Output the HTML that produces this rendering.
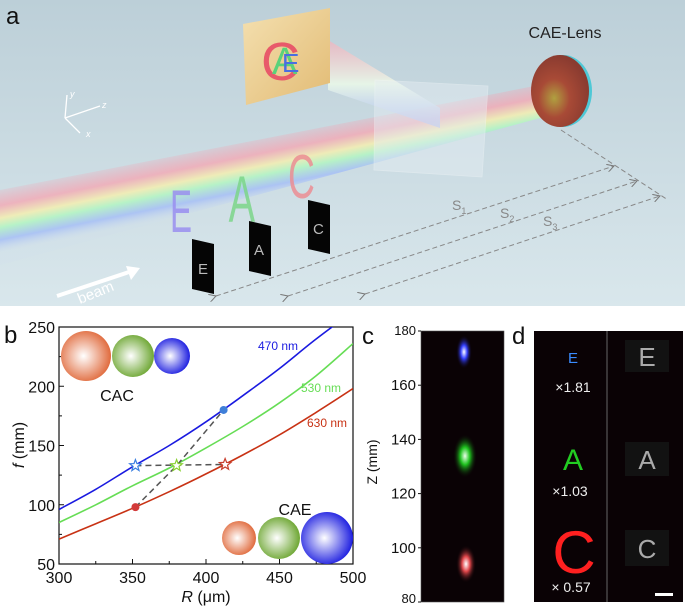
<!DOCTYPE html>
<html><head><meta charset="utf-8"><style>
body{margin:0;background:#fff;width:685px;height:606px;overflow:hidden;font-family:"Liberation Sans",Arial,sans-serif}
svg{position:absolute;left:0;top:0}
</style></head><body>
<svg id="root" width="685" height="606" viewBox="0 0 685 606">
<defs>
<linearGradient id="bg" x1="0" y1="0" x2="0" y2="1"><stop offset="0" stop-color="#bccfd8"/><stop offset="1" stop-color="#d9e7ec"/></linearGradient>
<linearGradient id="beamg" gradientUnits="userSpaceOnUse" x1="0" y1="190" x2="12" y2="250"><stop offset="0" stop-color="#f4a0b0" stop-opacity=".2"/><stop offset=".25" stop-color="#f4a8b4" stop-opacity=".8"/><stop offset=".45" stop-color="#f4eeb0" stop-opacity=".85"/><stop offset=".6" stop-color="#b4f4c4" stop-opacity=".9"/><stop offset=".8" stop-color="#a6bff6" stop-opacity=".85"/><stop offset="1" stop-color="#c8d8f0" stop-opacity=".1"/></linearGradient>
<linearGradient id="refg" x1="0" y1="0" x2="0" y2="1"><stop offset="0" stop-color="#f4b0bc" stop-opacity=".7"/><stop offset=".5" stop-color="#eaf8e8" stop-opacity=".9"/><stop offset="1" stop-color="#a8b8f4" stop-opacity=".7"/></linearGradient>
<linearGradient id="panelg" x1="0" y1="0" x2="1" y2="1"><stop offset="0" stop-color="#f4e0b0"/><stop offset="1" stop-color="#e2bb74"/></linearGradient>
<radialGradient id="ro" cx=".45" cy=".5" r=".55"><stop offset="0" stop-color="#fff"/><stop offset="1" stop-color="#e06a3c"/></radialGradient>
<radialGradient id="rg" cx=".45" cy=".5" r=".55"><stop offset="0" stop-color="#fff"/><stop offset="1" stop-color="#6da632"/></radialGradient>
<radialGradient id="rb" cx=".45" cy=".5" r=".55"><stop offset="0" stop-color="#fff"/><stop offset="1" stop-color="#1d1ee0"/></radialGradient>
<radialGradient id="sb" r=".5"><stop offset="0" stop-color="#fff"/><stop offset=".4" stop-color="#3440ff"/><stop offset="1" stop-color="#0a0205" stop-opacity="0"/></radialGradient>
<radialGradient id="sg" r=".5"><stop offset="0" stop-color="#eaffea"/><stop offset=".4" stop-color="#1ec21e"/><stop offset="1" stop-color="#0a0205" stop-opacity="0"/></radialGradient>
<radialGradient id="sr" r=".5"><stop offset="0" stop-color="#fff"/><stop offset=".4" stop-color="#e0464a"/><stop offset="1" stop-color="#0a0205" stop-opacity="0"/></radialGradient>
<radialGradient id="lensg" cx=".4" cy=".6" r=".6"><stop offset="0" stop-color="#b0a040"/><stop offset=".45" stop-color="#a84a36"/><stop offset="1" stop-color="#8a3b30"/></radialGradient>
<clipPath id="plotclip"><rect x="59" y="327" width="294" height="237"/></clipPath>
<marker id="ah" markerWidth="8" markerHeight="8" refX="7" refY="4" orient="auto"><path d="M0,0 L7,4 L0,8" fill="none" stroke="#777" stroke-width="1"/></marker>
</defs>

<g>
<rect x="0" y="0" width="685" height="306" fill="url(#bg)"/>
<text x="6" y="24" font-size="24" fill="#111">a</text>
<polygon points="0,190 555,82 555,114 0,265" fill="url(#beamg)"/>
<polygon points="328,40 328,90 440,128 440,108" fill="url(#refg)"/>
<polygon points="243,24 330,8 330,83 246,105" fill="url(#panelg)"/>
<text x="261" y="80" font-size="54" fill="#e85a6a">C</text>
<text x="272" y="74" font-size="38" fill="#5ad27a">A</text>
<text x="282" y="72" font-size="26" fill="#4a6ee0">E</text>
<polygon points="375,80 488,86 482,177 374,170" fill="#e6eef4" opacity=".45" stroke="#f4f8fa" stroke-width=".8"/>
<ellipse cx="563" cy="91" rx="29" ry="36" fill="#4ec8d6"/>
<ellipse cx="560" cy="91" rx="29" ry="36" fill="url(#lensg)"/>
<text x="565" y="38" font-size="16" text-anchor="middle" fill="#222">CAE-Lens</text>
<g stroke="#fff" stroke-width="1.3" fill="none">
<line x1="65" y1="118" x2="67" y2="95"/><line x1="65" y1="118" x2="100" y2="106"/><line x1="65" y1="118" x2="80" y2="133"/></g>
<text x="70" y="97" font-size="9" font-style="italic" fill="#fff">y</text>
<text x="102" y="108" font-size="9" font-style="italic" fill="#fff">z</text>
<text x="86" y="137" font-size="9" font-style="italic" fill="#fff">x</text>
<text x="170" y="232" font-size="60" fill="#9a8ff0" opacity=".85" transform="scale(0.55,1) translate(139,0)">E</text>
<text x="229" y="222" font-size="66" fill="#7cd68a" opacity=".85" transform="scale(0.6,1) translate(152,0)">A</text>
<text x="288" y="198" font-size="62" fill="#ec8e94" opacity=".85" transform="scale(0.6,1) translate(192,0)">C</text>
<polygon points="192,239 214,244 214,294 192,289" fill="#050505"/>
<polygon points="249,221 271,226 271,276 249,271" fill="#050505"/>
<polygon points="308,200 330,205 330,254 308,249" fill="#050505"/>
<text x="198" y="274" font-size="15" fill="#bbb">E</text>
<text x="254" y="255" font-size="15" fill="#bbb">A</text>
<text x="313" y="234" font-size="15" fill="#bbb">C</text>
<g stroke="#888" stroke-width="1" stroke-dasharray="5,3" fill="none">
<line x1="561" y1="130" x2="668" y2="200"/>
<line x1="216" y1="296" x2="614" y2="166" marker-start="url(#ah)" marker-end="url(#ah)"/>
<line x1="288" y1="296" x2="637" y2="181" marker-start="url(#ah)" marker-end="url(#ah)"/>
<line x1="365" y1="294" x2="660" y2="196" marker-start="url(#ah)" marker-end="url(#ah)"/>
</g>
<text x="452" y="210" font-size="14" fill="#888">S<tspan font-size="9" dy="4">1</tspan></text>
<text x="500" y="218" font-size="14" fill="#888">S<tspan font-size="9" dy="4">2</tspan></text>
<text x="543" y="226" font-size="14" fill="#888">S<tspan font-size="9" dy="4">3</tspan></text>
<line x1="57" y1="296" x2="132" y2="271" stroke="#fff" stroke-width="4"/>
<polygon points="140,268 126,266 131,280" fill="#fff"/>
<text x="80" y="304" font-size="15" fill="#fff" transform="rotate(-22 80 304)">beam</text>
</g>

<g id="pb">
<text x="4" y="343" font-size="24" fill="#111">b</text>
</g>

<g>
<text x="362" y="344" font-size="24" fill="#111">c</text>
<rect x="421" y="331" width="83" height="271" fill="#0a0205" stroke="#555" stroke-width=".6"/>
<ellipse cx="464" cy="352" rx="8" ry="17" fill="url(#sb)"/>
<ellipse cx="465" cy="456" rx="12" ry="22" fill="url(#sg)"/>
<ellipse cx="466" cy="564" rx="10" ry="19" fill="url(#sr)"/>
<g id="ctick"></g>
<text x="0" y="0" font-size="14" fill="#111" text-anchor="middle" transform="translate(377,462) rotate(-90)">Z (mm)</text>
</g>

<g>
<text x="512" y="344" font-size="24" fill="#111">d</text>
<rect x="534" y="331" width="149" height="271" fill="#0a0205"/>
<line x1="607" y1="331" x2="607" y2="602" stroke="#666" stroke-width="1"/>
<text x="573" y="363" font-size="15" fill="#3a8cff" text-anchor="middle">E</text>
<text x="573" y="392" font-size="14" fill="#eee" text-anchor="middle">×1.81</text>
<text x="573" y="470" font-size="30" fill="#22cc22" text-anchor="middle">A</text>
<text x="570" y="496" font-size="14" fill="#eee" text-anchor="middle">×1.03</text>
<text x="574" y="573" font-size="60" fill="#ff2020" text-anchor="middle">C</text>
<text x="571" y="592" font-size="14" fill="#eee" text-anchor="middle">× 0.57</text>
<rect x="625" y="340" width="44" height="32" fill="#121212"/>
<text x="647" y="366" font-size="26" fill="#aaa" text-anchor="middle">E</text>
<rect x="625" y="442" width="44" height="34" fill="#121212"/>
<text x="647" y="469" font-size="26" fill="#aaa" text-anchor="middle">A</text>
<rect x="625" y="530" width="44" height="36" fill="#121212"/>
<text x="647" y="558" font-size="26" fill="#aaa" text-anchor="middle">C</text>
<rect x="655" y="593" width="18" height="3" fill="#fff"/>
</g>
</svg>
<script>
const NS="http://www.w3.org/2000/svg";
const Rvals=[300,325,350,375,400,425,450,475,500];
const f470=[96,113,132,150,170,192,215,240,263];
const f530=[85,100,116,131,148,166,186,209,236];
const f630=[71,84,97,111,126,142,159,178,198];
const xTicks=[300,350,400,450,500];
const yTicks=[50,100,150,200,250];
const circlePts=[[352,98,"#d23a3a"],[412,180,"#3f7fd8"]];
const starPts=[[352,133,"#3a7fe0"],[380,133,"#88d030"],[413,134,"#c84030"]];
const zTicks=[80,100,120,140,160,180];

const X=r=>59+(r-300)/200*294, Y=f=>564-(f-50)/200*237;
const pb=document.getElementById('pb');
function mk(t,a,p){const e=document.createElementNS(NS,t);for(const k in a)e.setAttribute(k,a[k]);(p||pb).appendChild(e);return e;}
const box=mk('rect',{x:59,y:327,width:294,height:237,fill:'none',stroke:'#111','stroke-width':1.2});


xTicks.forEach(v=>{
 const t=mk('line',{x1:X(v),x2:X(v),y1:564,y2:559,stroke:'#111'});
 
 
 const l=mk('text',{x:X(v),y:583,'font-size':16,'text-anchor':'middle',fill:'#111'});l.textContent=v;
 
 
 if(v<500){const m=mk('line',{x1:X(v+25),x2:X(v+25),y1:564,y2:561,stroke:'#111'});
 
 }
});
yTicks.forEach(v=>{
 const t=mk('line',{x1:59,x2:64,y1:Y(v),y2:Y(v),stroke:'#111'});
 
 
 const l=mk('text',{x:55,y:Y(v)+6,'font-size':16,'text-anchor':'end',fill:'#111'});l.textContent=v;
 
 
 if(v<250){const m=mk('line',{x1:59,x2:62,y1:Y(v+25),y2:Y(v+25),stroke:'#111'});
 
 }
});
const xt=mk('text',{x:206,y:602,'font-size':16,'text-anchor':'middle',fill:'#111'});xt.innerHTML='<tspan font-style="italic">R</tspan> (μm)';


const yt=mk('text',{x:0,y:0,'font-size':16,'text-anchor':'middle',fill:'#111',transform:'translate(24,445) rotate(-90)'});yt.innerHTML='<tspan font-style="italic">f</tspan> (mm)';


[[86,356,25,'ro'],[133,356,21,'rg'],[172,356,18,'rb'],[239,538,17,'ro'],[279,538,21,'rg'],[327,538,26,'rb']].forEach(b=>{
 const c=mk('circle',{cx:b[0],cy:b[1],r:b[2],fill:'url(#'+b[3]+')'});
 
 
});
const t1=mk('text',{x:117,y:401,'font-size':16,'text-anchor':'middle',fill:'#111'});t1.textContent='CAC';


const t2=mk('text',{x:295,y:515,'font-size':16,'text-anchor':'middle',fill:'#111'});t2.textContent='CAE';


function curve(arr,col,name){
 const P=arr.map((f,i)=>[X(Rvals[i]),Y(f)]);
 let d='M'+P[0][0].toFixed(1)+','+P[0][1].toFixed(1);
 for(let i=0;i<P.length-1;i++){
  const p0=P[Math.max(0,i-1)],p1=P[i],p2=P[i+1],p3=P[Math.min(P.length-1,i+2)];
  const c1=[p1[0]+(p2[0]-p0[0])/6,p1[1]+(p2[1]-p0[1])/6],c2=[p2[0]-(p3[0]-p1[0])/6,p2[1]-(p3[1]-p1[1])/6];
  d+='C'+c1.map(v=>v.toFixed(1)).join(',')+' '+c2.map(v=>v.toFixed(1)).join(',')+' '+p2.map(v=>v.toFixed(1)).join(',');
 }
 const p=mk('path',{d:d,fill:'none',stroke:col,'stroke-width':1.6,'clip-path':'url(#plotclip)'});
 
 }
curve(f470,'#1a1ae0','curve-470nm');curve(f530,'#66dd55','curve-530nm');curve(f630,'#c83214','curve-630nm');
[[258,350,'#1a1ae0','470 nm'],[301,392,'#66dd55','530 nm'],[307,427,'#c83214','630 nm']].forEach(l=>{
 const t=mk('text',{x:l[0],y:l[1],'font-size':12,fill:l[2]});t.textContent=l[3];
 
 
});
const dsh={fill:'none',stroke:'#555','stroke-width':1.5,'stroke-dasharray':'6,4'};
const d1=mk('path',Object.assign({d:`M${X(circlePts[0][0])},${Y(circlePts[0][1])}L${X(starPts[1][0])},${Y(starPts[1][1])}L${X(circlePts[1][0])},${Y(circlePts[1][1])}`},dsh));


const d2=mk('path',Object.assign({d:`M${X(starPts[0][0])},${Y(starPts[0][1])}L${X(starPts[2][0])},${Y(starPts[2][1])}`},dsh));


circlePts.forEach(p=>{const c=mk('circle',{cx:X(p[0]),cy:Y(p[1]),r:4,fill:p[2]});
 
 });
starPts.forEach(p=>{const cx=X(p[0]),cy=Y(p[1]);let pts=[];for(let i=0;i<10;i++){const r=i%2?2.5:6,a=-Math.PI/2+i*Math.PI/5;pts.push((cx+r*Math.cos(a)).toFixed(1)+','+(cy+r*Math.sin(a)).toFixed(1));}
 const s=mk('polygon',{points:pts.join(' '),fill:'#fff',stroke:p[2],'stroke-width':1.2});
 
 });
const ct=document.getElementById('ctick');
const Z=z=>602-(z-80)/100*271;
zTicks.forEach(v=>{
 const t=mk('line',{x1:418,x2:421,y1:Z(v),y2:Z(v),stroke:'#111'},ct);
 
 
 const l=mk('text',{x:416,y:Z(v)+(v==180?4:v==80?1:5),'font-size':v==180||v==80?13:15,'text-anchor':'end',fill:'#111'},ct);l.textContent=v;
 
 
});
</script>
</body></html>
